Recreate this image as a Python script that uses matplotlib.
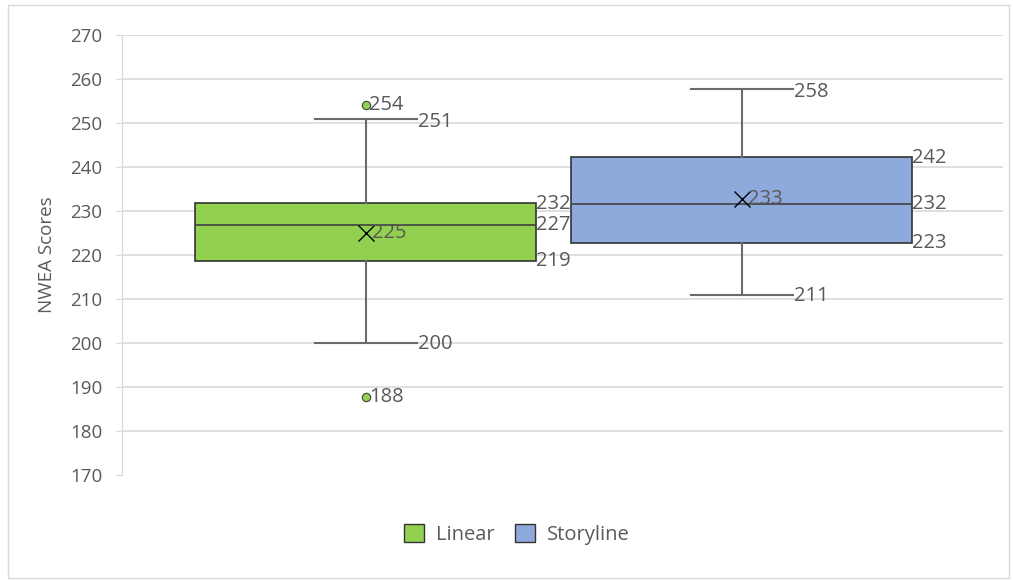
import matplotlib.pyplot as plt
from matplotlib.patches import Patch, Rectangle

### Data ----------------------------------------------------------------------

groups = ['Linear', 'Storyline']
q1 = [218.6, 222.7]
med = [226.8, 231.6]
q3 = [231.8, 242.3]
mean = [225.0, 232.7]
whis_lo = [200.0, 210.9]
whis_hi = [250.9, 257.7]
fliers = [[254.1, 187.7], []]

colors = ['#92D050', '#8EA9DB']
edge = '#333333'
txt = '#595959'
grid_c = '#D9D9D9'

plt.rcParams['font.family'] = ['Open Sans', 'DejaVu Sans']

fig = plt.figure(figsize=(10.13, 5.8), dpi=100)
ax = fig.add_axes([0.1204, 0.181, 0.8696, 0.7587])

stats = []
for i in range(len(groups)):
	stats.append({'label': groups[i], 'q1': q1[i], 'med': med[i], 'q3': q3[i],
		'mean': mean[i], 'whislo': whis_lo[i], 'whishi': whis_hi[i], 'fliers': fliers[i]})

box_w = 0.907
cap_w = 0.271
pos = list(range(len(groups)))
bp = ax.bxp(stats, positions=pos, widths=box_w, capwidths=cap_w, patch_artist=True,
	showmeans=True,
	boxprops=dict(edgecolor=edge, linewidth=1.2),
	medianprops=dict(color='#404040', linewidth=1.2),
	whiskerprops=dict(color='#6b6b6b', linewidth=1.5),
	capprops=dict(color='#6b6b6b', linewidth=1.5),
	meanprops=dict(marker='x', markeredgecolor='black', markersize=12, markeredgewidth=1.0),
	flierprops=dict(marker='o', markerfacecolor=colors[0], markeredgecolor='#404040',
		markersize=6, markeredgewidth=0.8))
for patch, c in zip(bp['boxes'], colors):
	patch.set_facecolor(c)
for c, line in zip(colors, bp['fliers']):
	line.set_markerfacecolor(c)

### Data labels -----------------------------------------------------------------
fs = 14.5
def lab(x, y, v, dx=1):
	ax.annotate('%d' % round(v), xy=(x, y), xytext=(dx, 0), textcoords='offset points',
		ha='left', va='center', fontsize=fs, color=txt)

for i, p in enumerate(pos):
	right = p + box_w / 2
	lab(right, q3[i] - 0.3, q3[i], dx=0)
	lab(right, med[i], med[i], dx=0)
	lab(right, q1[i], q1[i], dx=0)
	lab(p, mean[i], mean[i], dx=4)
	lab(p + cap_w / 2, whis_hi[i] - 0.7, whis_hi[i], dx=0.5)
	lab(p + cap_w / 2, whis_lo[i] - 0.3, whis_lo[i], dx=0.5)
	for f in fliers[i]:
		lab(p, f, f, dx=2)

### Axes styling ------------------------------------------------------------------
ax.set_xlim(-0.649, 1.694)
ax.set_ylim(170, 270)
ax.set_yticks(range(170, 271, 10))
ax.set_xticks([])
ax.yaxis.grid(True, color=grid_c, linewidth=1.2)
ax.set_axisbelow(True)
ax.get_ygridlines()[0].set_visible(False)
for s in ('top', 'right', 'bottom'):
	ax.spines[s].set_visible(False)
ax.spines['left'].set_color(grid_c)
ax.tick_params(axis='y', colors=grid_c, labelcolor=txt, labelsize=13.5, length=4, pad=10)
ax.set_ylabel('NWEA Scores', fontsize=13.5, color=txt, labelpad=10)

handles = [Patch(facecolor=c, edgecolor=edge, label=g) for c, g in zip(colors, groups)]
fig.legend(handles=handles, loc='center', bbox_to_anchor=(0.51, 0.079), ncol=2,
	frameon=False, fontsize=14.5, labelcolor=txt, handlelength=1.0, handleheight=1.0,
	handletextpad=0.6, columnspacing=1.0)

fig.patches.append(Rectangle((0.008, 0.004), 0.988, 0.988, transform=fig.transFigure,
	fill=False, edgecolor=grid_c, linewidth=1))

fig.savefig('out.png', dpi=100)
